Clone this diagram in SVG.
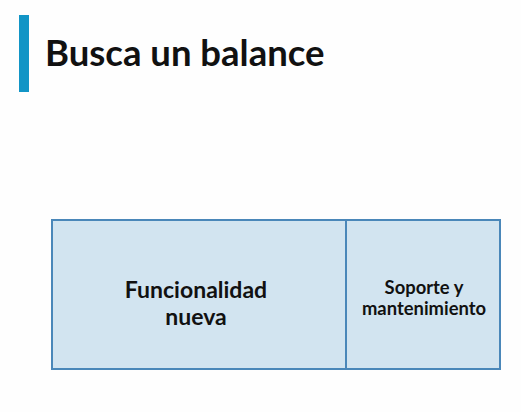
<svg xmlns="http://www.w3.org/2000/svg" width="521" height="412" viewBox="0 0 521 412">
<style>
.box{fill:#d2e4f0;stroke:#4a87b9;stroke-width:2}
.lbl{font-family:Lato,"Noto Sans",sans-serif;font-weight:bold;fill:#111;text-anchor:middle}
</style>
<rect width="521" height="412" fill="#fefefe"/>
<g id="title">
<rect x="19" y="15" width="10" height="77" fill="#1295c6"/>
<text x="45" y="66" font-family="Lato,'Noto Sans',sans-serif" font-weight="bold" font-size="36.5" fill="#111">Busca un balance</text>
</g>
<g id="funcionalidad">
<rect class="box" x="52" y="220" width="294" height="149"/>
<text class="lbl" font-size="23" x="196" y="298">Funcionalidad</text>
<text class="lbl" font-size="23" x="196" y="325">nueva</text>
</g>
<g id="soporte">
<rect class="box" x="346" y="220" width="154" height="149"/>
<text class="lbl" font-size="18.4" x="424" y="294">Soporte y</text>
<text class="lbl" font-size="18.4" x="424" y="315">mantenimiento</text>
</g>
<g id="connectors"></g>
</svg>
